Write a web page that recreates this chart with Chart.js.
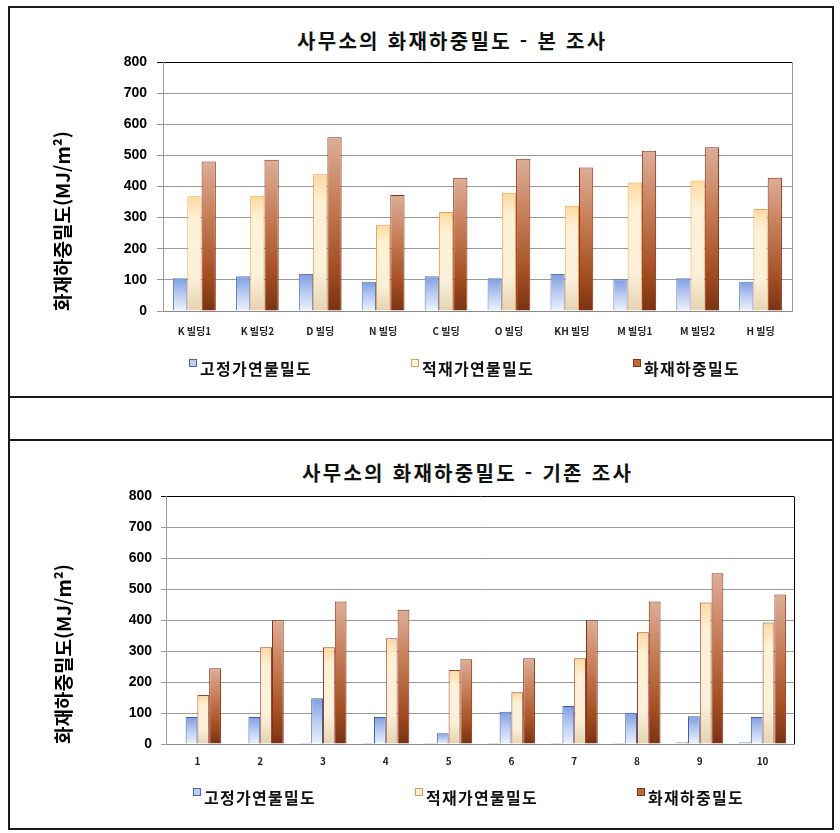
<!DOCTYPE html>
<html lang="ko">
<head>
<meta charset="UTF-8">
<title>사무소의 화재하중밀도</title>
<style>
    body {
        margin: 0;
        background: #fff;
        font-family: "Noto Sans CJK KR", sans-serif;
    }
    #sheet {
        position: absolute;
        left: 8px; top: 6px;
        width: 822px; height: 820px;
        border: 2px solid #1a1a1a;
    }
    .rule {
        position: absolute;
        left: 8px; width: 826px; height: 2px;
        background: #1a1a1a;
    }
    canvas {
        position: absolute;
        left: 10px;
    }
    .title {
        position: absolute;
        font-size: 20px;
        font-weight: bold;
        letter-spacing: 2.3px;
        color: #111;
        white-space: nowrap;
    }
    .legend {
        position: absolute;
        display: flex;
        font-size: 16px;
        font-weight: bold;
        letter-spacing: 1.3px;
        color: #111;
    }
    .legend span.item {
        width: 222px;
        white-space: nowrap;
    }
    .legend i {
        display: inline-block;
        width: 6px; height: 6px;
        border: 1px solid;
        margin-right: 3px;
        vertical-align: top;
        margin-top: 3px;
    }
</style>
</head>
<body>

<div id="sheet"></div>
<div class="rule" style="top:396px"></div>
<div class="rule" style="top:439px"></div>

<div class="title" id="topTitle" style="left:297px; top:26px">사무소의 화재하중밀도 - 본 조사</div>
<canvas id="topChart" width="818" height="388" style="top:8px"></canvas>
<div class="legend" id="topLegend" style="left:189px; top:356px"></div>

<div class="title" id="prevTitle" style="left:302px; top:458px">사무소의 화재하중밀도 - 기존 조사</div>
<canvas id="prevChart" width="818" height="384" style="top:442px"></canvas>
<div class="legend" id="prevLegend" style="left:193px; top:785px"></div>

<script src="https://cdn.jsdelivr.net/npm/chart.js"></script>
<script>
    // 본 조사
    const topLabels = ['K 빌딩1', 'K 빌딩2', 'D 빌딩', 'N 빌딩', 'C 빌딩', 'O 빌딩', 'KH 빌딩', 'M 빌딩1', 'M 빌딩2', 'H 빌딩'];
    const topFixed = [105, 112, 119, 94, 112, 105, 119, 102, 105, 94];
    const topMovable = [369, 370, 439, 277, 318, 380, 338, 413, 419, 328];
    const topFireLoad = [480, 486, 558, 373, 428, 489, 461, 515, 526, 428];

    // 기존 조사
    const prevLabels = ['1', '2', '3', '4', '5', '6', '7', '8', '9', '10'];
    const prevOther = [-3, -3, 3, 3, 3, 3, 3, 3, 6, 6];
    const prevFixed = [87, 87, 148, 87, 35, 104, 123, 101, 90, 87];
    const prevMovable = [158, 313, 313, 342, 239, 167, 277, 361, 457, 393];
    const prevFireLoad = [245, 400, 461, 434, 274, 277, 400, 461, 552, 483];

    const seriesNames = ['고정가연물밀도', '적재가연물밀도', '화재하중밀도'];
    const yMin = 0, yMax = 800, yStep = 100;
    const yTitle = '화재하중밀도(MJ/m²)';

    // per-bar vertical gradient
    function barFill(stops) {
        return (ctx) => {
            const chart = ctx.chart;
            if (ctx.type !== 'data' || !chart.chartArea) return stops[1][1];
            const y = chart.scales.y;
            const top = y.getPixelForValue(Math.max(ctx.raw, 0));
            const base = y.getPixelForValue(Math.min(ctx.raw, 0));
            if (!isFinite(top) || Math.abs(base - top) < 1) return stops[1][1];
            const g = chart.ctx.createLinearGradient(0, top, 0, base);
            stops.forEach(([o, c]) => g.addColorStop(o, c));
            return g;
        };
    }

    const blueFill = barFill([[0, '#7f9de2'], [0.55, '#bfd0f2'], [1, '#eef2fb']]);
    const creamFill = barFill([[0, '#fbd9a0'], [0.2, '#fff1d6'], [0.7, '#fbf0da'], [1, '#e5d4b2']]);
    const brownFill = barFill([[0, '#dcae98'], [0.35, '#c8805a'], [0.75, '#a44f22'], [1, '#7a3213']]);

    const legendStyles = [
        { fill: '#bccdef', border: '#4b6aa8' },
        { fill: '#fff5df', border: '#e39a4c' },
        { fill: '#c06a3c', border: '#7f3418' }
    ];

    const plotFrame = {
        id: 'plotFrame',
        beforeDatasetsDraw(chart, args, opts) {
            const { ctx, chartArea: a } = chart;
            ctx.save();
            ctx.lineWidth = 1;
            ctx.strokeStyle = opts.right || '#9a9a9a';
            ctx.beginPath();
            ctx.moveTo(Math.round(a.right) + 0.5, a.top);
            ctx.lineTo(Math.round(a.right) + 0.5, a.bottom);
            ctx.stroke();
            ctx.restore();
        }
    };

    function makeOptions(o) {
        return {
            responsive: false,
            animation: false,
            layout: { padding: { top: o.top, right: o.right, bottom: o.bottom, left: 0 } },
            plugins: {
                legend: { display: false },
                title: { display: false },
                tooltip: { enabled: false },
                plotFrame: { right: o.frameRight }
            },
            datasets: { bar: { barPercentage: 1, categoryPercentage: o.cat } },
            scales: {
                x: {
                    grid: { display: false, drawTicks: false },
                    border: { color: '#8a8a8a' },
                    ticks: {
                        padding: o.xPad,
                        maxRotation: 0,
                        color: '#222',
                        font: { family: '"Noto Sans CJK KR", sans-serif', size: 10, weight: 'bold' }
                    }
                },
                y: {
                    min: yMin,
                    max: yMax,
                    afterFit: (s) => { s.width = o.axisWidth; },
                    grid: {
                        color: (c) => c.tick && c.tick.value === yMax ? '#000' : '#9a9a9a',
                        tickLength: o.tickLen
                    },
                    border: { color: '#9a9a9a' },
                    ticks: {
                        stepSize: yStep,
                        padding: o.yPad,
                        color: '#000',
                        font: { family: '"Liberation Sans", Arial, sans-serif', size: 14, weight: 'bold' }
                    },
                    title: {
                        display: true,
                        text: yTitle,
                        align: 'start',
                        color: '#000',
                        padding: { top: o.titleX, bottom: 0 },
                        font: { family: '"Noto Sans CJK KR", sans-serif', size: 19, weight: 'bold' }
                    }
                }
            }
        };
    }

    function buildLegend(el) {
        seriesNames.forEach((name, i) => {
            const item = document.createElement('span');
            item.className = 'item';
            const box = document.createElement('i');
            box.style.background = legendStyles[i].fill;
            box.style.borderColor = legendStyles[i].border;
            item.appendChild(box);
            item.appendChild(document.createTextNode(name));
            el.appendChild(item);
        });
    }

    new Chart(document.getElementById('topChart'), {
        type: 'bar',
        data: {
            labels: topLabels,
            datasets: [
                { label: seriesNames[0], data: topFixed, backgroundColor: blueFill, borderColor: '#5a7cb8', borderWidth: 1 },
                { label: seriesNames[1], data: topMovable, backgroundColor: creamFill, borderColor: '#f0a14a', borderWidth: 1 },
                { label: seriesNames[2], data: topFireLoad, backgroundColor: brownFill, borderColor: '#8a2f14', borderWidth: 1 }
            ]
        },
        options: makeOptions({ top: 54, right: 36, bottom: 45, cat: 0.68, xPad: 14, axisWidth: 153, tickLen: 6, yPad: 10, titleX: 41, frameRight: '#9a9a9a' }),
        plugins: [plotFrame]
    });

    new Chart(document.getElementById('prevChart'), {
        type: 'bar',
        data: {
            labels: prevLabels,
            datasets: [
                { label: '', data: prevOther, backgroundColor: '#a9bde0', borderColor: '#5a78b0', borderWidth: 1 },
                { label: seriesNames[0], data: prevFixed, backgroundColor: blueFill, borderColor: '#3c5fa8', borderWidth: 1 },
                { label: seriesNames[1], data: prevMovable, backgroundColor: creamFill, borderColor: '#a0412a', borderWidth: 1 },
                { label: seriesNames[2], data: prevFireLoad, backgroundColor: brownFill, borderColor: '#8a2f14', borderWidth: 1 }
            ]
        },
        options: makeOptions({ top: 54.5, right: 34, bottom: 48, cat: 0.75, xPad: 11, axisWidth: 156, tickLen: 5, yPad: 9, titleX: 42, frameRight: '#000' }),
        plugins: [plotFrame]
    });

    buildLegend(document.getElementById('topLegend'));
    buildLegend(document.getElementById('prevLegend'));
</script>

</body>
</html>
